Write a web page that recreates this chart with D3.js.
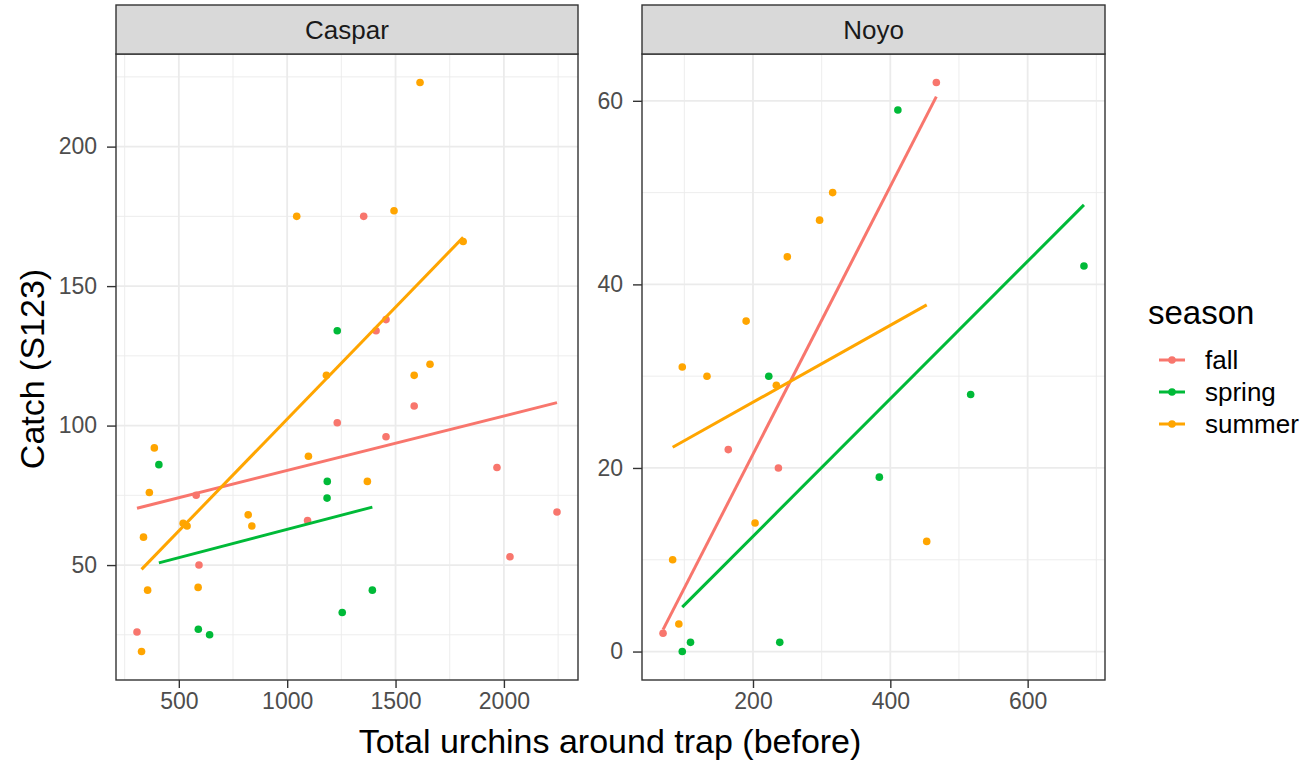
<!DOCTYPE html>
<html>
<head>
<meta charset="utf-8">
<style>
  body { margin: 0; background: #fff; }
  text { font-family: "Liberation Sans", Arial, sans-serif; }
  .title { fill: #000; font-size: 34px; }
</style>
</head>
<body>
<svg id="chart" width="1306" height="760"></svg>
<script src="https://d3js.org/d3.v7.min.js"></script>
<script>
// season keys and colours
var seasons = ["fall", "spring", "summer"];
var seasonColors = ["#F8766D", "#00BA38", "#FFA500"];

// Caspar site: [urchins before, catch]
var casparFall = [[1353,175],[1410,134],[1456,138],[1586,107],[1231,101],[1456,96],[1968,85],
  [580,75],[1094,66],[2245,69],[2028,53],[593,50],[307,26]];
var casparSpring = [[1231,134],[408,86],[1185,80],[1184,74],[1393,41],[1254,33],[590,27],[642,25]];
var casparSummer = [[1613,223],[1044,175],[1493,177],[1812,166],[1181,118],[1586,118],[1659,122],
  [387,92],[1098,89],[1370,80],[364,76],[820,68],[837,64],[520,65],[538,64],[337,60],[356,41],[589,42],[328,19]];

// Noyo site
var noyoFall = [[467,62],[164,22],[237,20],[69,2]];
var noyoSpring = [[411,59],[682,42],[223,30],[517,28],[384,19],[109,1],[97,0],[239,1]];
var noyoSummer = [[316,50],[297,47],[250,43],[190,36],[97,31],[133,30],[234,29],[203,14],[453,12],[83,10],[92,3]];

// tick labels
var casparXTicks = [500, 1000, 1500, 2000];
var casparYTicks = [50, 100, 150, 200];
var noyoXTicks = [200, 400, 600];
var noyoYTicks = [0, 20, 40, 60];

var panels = [
  { name: "Caspar", groups: [casparFall, casparSpring, casparSummer],
    xTicks: casparXTicks, yTicks: casparYTicks, xStep: 250, yStep: 25, left: 116, right: 578 },
  { name: "Noyo", groups: [noyoFall, noyoSpring, noyoSummer],
    xTicks: noyoXTicks, yTicks: noyoYTicks, xStep: 100, yStep: 10, left: 642, right: 1105 }
];

var panelTop = 54, panelBottom = 680, stripTop = 5;
var svg = d3.select("#chart");

function expand(ext) {
  var pad = (ext[1] - ext[0]) * 0.05;
  return [ext[0] - pad, ext[1] + pad];
}

// least squares fit, drawn over the x range of the group
function lmFit(pts) {
  var mx = d3.mean(pts, d => d[0]), my = d3.mean(pts, d => d[1]);
  var sxy = d3.sum(pts, d => (d[0] - mx) * (d[1] - my));
  var sxx = d3.sum(pts, d => (d[0] - mx) * (d[0] - mx));
  var b = sxy / sxx, a = my - b * mx;
  var ext = d3.extent(pts, d => d[0]);
  return ext.map(x => [x, a + b * x]);
}

panels.forEach(function (p) {
  var all = [].concat.apply([], p.groups);
  var x = d3.scaleLinear().domain(expand(d3.extent(all, d => d[0]))).range([p.left, p.right]);
  var y = d3.scaleLinear().domain(expand(d3.extent(all, d => d[1]))).range([panelBottom, panelTop]);

  var g = svg.append("g");

  // minor grid
  var xd = x.domain(), yd = y.domain();
  var xMinor = d3.range(Math.ceil(xd[0] / p.xStep) * p.xStep, xd[1], p.xStep)
    .filter(v => p.xTicks.indexOf(v) < 0);
  var yMinor = d3.range(Math.ceil(yd[0] / p.yStep) * p.yStep, yd[1], p.yStep)
    .filter(v => p.yTicks.indexOf(v) < 0);

  g.selectAll(null).data(xMinor).enter().append("line")
    .attr("x1", d => x(d)).attr("x2", d => x(d)).attr("y1", panelTop).attr("y2", panelBottom)
    .attr("stroke", "#ebebeb").attr("stroke-width", 0.9);
  g.selectAll(null).data(yMinor).enter().append("line")
    .attr("x1", p.left).attr("x2", p.right).attr("y1", d => y(d)).attr("y2", d => y(d))
    .attr("stroke", "#ebebeb").attr("stroke-width", 0.9);

  // major grid
  g.selectAll(null).data(p.xTicks).enter().append("line")
    .attr("x1", d => x(d)).attr("x2", d => x(d)).attr("y1", panelTop).attr("y2", panelBottom)
    .attr("stroke", "#ebebeb").attr("stroke-width", 1.8);
  g.selectAll(null).data(p.yTicks).enter().append("line")
    .attr("x1", p.left).attr("x2", p.right).attr("y1", d => y(d)).attr("y2", d => y(d))
    .attr("stroke", "#ebebeb").attr("stroke-width", 1.8);

  // points
  p.groups.forEach(function (pts, i) {
    g.selectAll(null).data(pts).enter().append("circle")
      .attr("cx", d => x(d[0])).attr("cy", d => y(d[1])).attr("r", 3.8)
      .attr("fill", seasonColors[i]);
  });

  // lm lines
  p.groups.forEach(function (pts, i) {
    g.append("path")
      .attr("d", d3.line().x(d => x(d[0])).y(d => y(d[1]))(lmFit(pts)))
      .attr("stroke", seasonColors[i]).attr("stroke-width", 3).attr("fill", "none");
  });

  // axes
  var xAxis = d3.axisBottom(x).tickValues(p.xTicks).tickFormat(d3.format("d")).tickSize(8).tickPadding(5);
  var yAxis = d3.axisLeft(y).tickValues(p.yTicks).tickFormat(d3.format("d")).tickSize(9).tickPadding(10);

  var gx = g.append("g").attr("transform", "translate(0," + panelBottom + ")").call(xAxis);
  var gy = g.append("g").attr("transform", "translate(" + p.left + ",0)").call(yAxis);
  [gx, gy].forEach(function (a) {
    a.select(".domain").remove();
    a.selectAll(".tick line").attr("stroke", "#333").attr("stroke-width", 1.4);
    a.selectAll(".tick text").attr("fill", "#4d4d4d")
      .style("font-size", "23px").style("font-family", "Liberation Sans, Arial, sans-serif");
  });

  // panel border
  g.append("rect").attr("x", p.left).attr("y", panelTop)
    .attr("width", p.right - p.left).attr("height", panelBottom - panelTop)
    .attr("fill", "none").attr("stroke", "#333").attr("stroke-width", 1.4);

  // strip
  g.append("rect").attr("x", p.left).attr("y", stripTop)
    .attr("width", p.right - p.left).attr("height", panelTop - stripTop)
    .attr("fill", "#d9d9d9").attr("stroke", "#333").attr("stroke-width", 1.4);
  g.append("text").attr("x", (p.left + p.right) / 2).attr("y", (panelTop + stripTop) / 2 + 9)
    .attr("text-anchor", "middle").attr("fill", "#1a1a1a").style("font-size", "26px")
    .text(p.name);
});

// axis titles
svg.append("text").attr("class", "title").attr("x", 610).attr("y", 753)
  .attr("text-anchor", "middle").text("Total urchins around trap (before)");
svg.append("text").attr("class", "title")
  .attr("transform", "translate(44,369) rotate(-90)")
  .attr("text-anchor", "middle").text("Catch (S123)");

// legend
var legend = svg.append("g");
legend.append("text").attr("x", 1148).attr("y", 324).style("font-size", "33px").text("season");
var item = legend.selectAll(null).data(seasons).enter().append("g")
  .attr("transform", (d, i) => "translate(0," + (360 + i * 32) + ")");
item.append("line").attr("x1", 1159).attr("x2", 1185)
  .attr("stroke", (d, i) => seasonColors[i]).attr("stroke-width", 3);
item.append("circle").attr("cx", 1172).attr("r", 3.8).attr("fill", (d, i) => seasonColors[i]);
item.append("text").attr("x", 1205).attr("y", 9).style("font-size", "26px").text(d => d);
</script>
</body>
</html>
